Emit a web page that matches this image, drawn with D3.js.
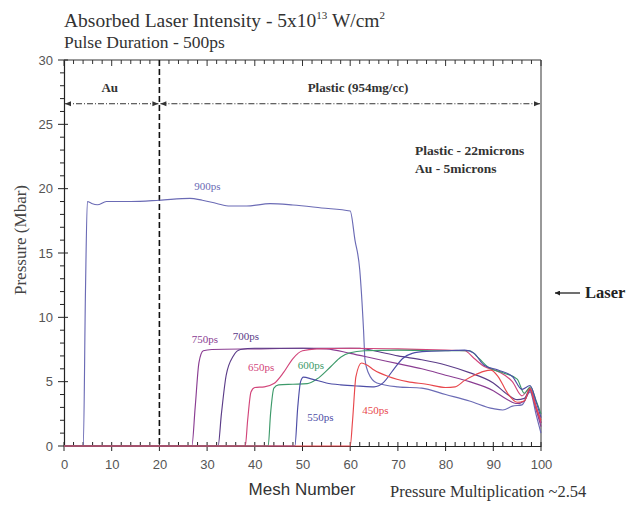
<!DOCTYPE html>
<html>
<head>
<meta charset="utf-8">
<script src="https://cdn.jsdelivr.net/npm/d3@7"></script>
<style>
  html, body { margin: 0; padding: 0; background: #fff; }
  svg { display: block; }
</style>
</head>
<body>
<svg id="chart" width="629" height="506"></svg>
<script>
// Pressure profiles [mesh number, pressure in Mbar] at successive times
const p450 = [[0,0],[60,0],[60.5,2],[61.2,5.4],[62.4,6.45],[63.5,6.3],[65,5.9],[68,5.4],[72,5.0],[76,4.8],[80,4.55],[82,4.6],[84,5.1],[86,5.5],[88,5.8],[89.5,5.9],[91,5.4],[93,4.1],[95,3.4],[96.5,3.5],[97.7,4.5],[98.6,3.4],[100,2.0]];
const p550 = [[0,0],[48.4,0],[49,3],[49.6,5.0],[50.2,5.35],[52,5.2],[55,4.9],[58,4.75],[62,4.65],[65,4.6],[67,4.95],[69,5.9],[71,6.8],[73,7.2],[76,7.35],[80,7.4],[84,7.45],[86,7.2],[88,6.3],[91,5.9],[94,5.4],[96,4.4],[97.7,4.7],[99,3.4],[100,2.2]];
const p600 = [[0,0],[42.8,0],[43.3,2.5],[44,4.5],[45,4.75],[48,4.8],[51,4.85],[53,5.2],[56,6.2],[58,6.9],[60,7.25],[63,7.4],[70,7.45],[80,7.4],[85,7.4],[87,6.8],[89,6.1],[92,5.7],[95,5.2],[96.5,4.1],[97.8,4.6],[99,3.5],[100,2.5]];
const p650 = [[0,0],[38,0],[38.5,2],[39.2,4.2],[40,4.55],[42,4.6],[44,4.85],[46,5.7],[48,6.8],[50,7.4],[53,7.55],[60,7.6],[70,7.55],[80,7.45],[84,7.4],[86,6.8],[88,6.2],[91,5.8],[94,5.0],[96,3.9],[97.7,4.5],[99,3.0],[100,1.8]];
const p700 = [[0,0],[32.3,0],[33,2.5],[34,5.5],[35.5,7.0],[37,7.5],[40,7.6],[50,7.6],[62,7.6],[65,7.4],[70,7.0],[75,6.7],[80,6.3],[85,5.7],[90,4.9],[93,4.0],[95,3.6],[96.5,3.7],[97.7,4.4],[99,3.0],[100,1.8]];
const p750 = [[0,0],[26.8,0],[27.5,3],[28.3,6.5],[29.2,7.4],[31,7.5],[40,7.55],[50,7.6],[55,7.55],[60,7.2],[65,6.8],[70,6.4],[75,6.0],[80,5.5],[85,5.0],[90,4.3],[93,3.6],[95,3.3],[96.5,3.5],[97.7,4.3],[99,2.8],[100,1.5]];
const p900 = [[0,0],[4.05,0],[4.5,12],[4.9,19.0],[5.8,18.85],[7.0,18.75],[8.9,19.0],[14,19.0],[20,19.1],[26.4,19.25],[29,19.1],[32,18.85],[34.8,18.65],[38.3,18.65],[43.2,18.84],[48,18.73],[54,18.5],[60,18.26],[61,16],[62,13.7],[62.8,9],[63.1,6.7],[63.8,5.7],[65.6,4.9],[70,4.6],[75,4.5],[80,4.0],[85,3.5],[90,2.9],[92,2.8],[94,3.1],[96,3.2],[97.7,4.2],[99,2.4],[100,1.0]];

const seriesNames  = ["900ps", "750ps", "700ps", "650ps", "600ps", "550ps", "450ps"];
const seriesData   = [p900, p750, p700, p650, p600, p550, p450];
const seriesColors = ["#6b6bb5", "#8a3d92", "#5b3c88", "#d2457a", "#3d9a6a", "#4d4da6", "#e8474c"];
// label anchor in data units [mesh, pressure]
const labelMesh     = [27.3, 26.8, 35.4, 38.6, 49.0, 51.0, 62.5];
const labelPressure = [19.9, 8.0, 8.2, 5.85, 6.0, 1.95, 2.45];

const xTicks = [0, 10, 20, 30, 40, 50, 60, 70, 80, 90, 100];
const yTicks = [0, 5, 10, 15, 20, 25, 30];
const layerBoundary = 20;   // Au / plastic interface (mesh)
const regionArrowLevel = 26.6;

const svg = d3.select("#chart");
const serif = "'Liberation Serif', 'Times New Roman', serif";
const sans  = "'Liberation Sans', Arial, sans-serif";

const x = d3.scaleLinear().domain([0, 100]).range([64, 541]);
const y = d3.scaleLinear().domain([0, 30]).range([446, 60]);

// frame: top and right edges
svg.append("line").attr("x1", x(0)).attr("x2", x(100)).attr("y1", y(30)).attr("y2", y(30))
  .attr("stroke", "#333").attr("stroke-width", 1);
svg.append("line").attr("x1", x(100)).attr("x2", x(100)).attr("y1", y(30)).attr("y2", y(0))
  .attr("stroke", "#555").attr("stroke-width", 1.2);

// top edge ticks pointing inward
const topMinor = d3.range(0, 101, 2);
svg.append("g").selectAll("line").data(topMinor).join("line")
  .attr("x1", d => x(d)).attr("x2", d => x(d))
  .attr("y1", y(30)).attr("y2", d => y(30) + (d % 10 === 0 ? 6 : 4))
  .attr("stroke", "#333").attr("stroke-width", 1);

// bottom axis
const xAxis = d3.axisBottom(x).tickValues(xTicks).tickSize(0).tickPadding(14);
const gx = svg.append("g").attr("transform", `translate(0,${y(0)})`).call(xAxis);
gx.select(".domain").attr("stroke", "#222").attr("stroke-width", 1.2);
gx.selectAll("text").attr("font-family", sans).attr("font-size", 13).attr("fill", "#555");
svg.append("g").selectAll("line").data(d3.range(0, 101, 2)).join("line")
  .attr("x1", d => x(d)).attr("x2", d => x(d))
  .attr("y1", d => y(0) - 4).attr("y2", d => y(0) + (d % 10 === 0 ? 5 : 1))
  .attr("stroke", "#222").attr("stroke-width", 1);

// left axis
const yAxis = d3.axisLeft(y).tickValues(yTicks).tickSize(0).tickPadding(11);
const gy = svg.append("g").attr("transform", `translate(${x(0)},0)`).call(yAxis);
gy.select(".domain").attr("stroke", "#222").attr("stroke-width", 1.2);
gy.selectAll("text").attr("font-family", sans).attr("font-size", 13).attr("fill", "#555");
svg.append("g").selectAll("line").data(d3.range(0, 31, 1)).join("line")
  .attr("x1", d => x(0) - (d % 5 === 0 ? 6 : 4)).attr("x2", d => x(0) + (d % 5 === 0 ? 4 : 0))
  .attr("y1", d => y(d)).attr("y2", d => y(d))
  .attr("stroke", "#222").attr("stroke-width", 1);

// Au / plastic interface
svg.append("line")
  .attr("x1", x(layerBoundary)).attr("x2", x(layerBoundary))
  .attr("y1", y(30)).attr("y2", y(0))
  .attr("stroke", "#111").attr("stroke-width", 1.6).attr("stroke-dasharray", "6,3");

// region extent arrows (dash-dot)
const defs = svg.append("defs");
defs.append("marker").attr("id", "ah").attr("viewBox", "0 0 10 10")
  .attr("refX", 10).attr("refY", 5).attr("markerWidth", 7).attr("markerHeight", 6)
  .attr("orient", "auto-start-reverse").attr("markerUnits", "userSpaceOnUse")
  .append("path").attr("d", "M0,1 L10,5 L0,9 Z").attr("fill", "#333");
[[0, layerBoundary], [layerBoundary, 100]].forEach(([a, b]) => {
  svg.append("line")
    .attr("x1", x(a) + 1).attr("x2", x(b) - 1)
    .attr("y1", y(regionArrowLevel)).attr("y2", y(regionArrowLevel))
    .attr("stroke", "#333").attr("stroke-width", 1)
    .attr("stroke-dasharray", "6,2,1,2")
    .attr("marker-start", "url(#ah)").attr("marker-end", "url(#ah)");
});
svg.append("text").attr("x", x(10) - 2).attr("y", 92).attr("text-anchor", "middle")
  .attr("font-family", serif).attr("font-weight", "bold").attr("font-size", 13).attr("fill", "#333")
  .text("Au");
svg.append("text").attr("x", 358).attr("y", 92).attr("text-anchor", "middle")
  .attr("font-family", serif).attr("font-weight", "bold").attr("font-size", 13).attr("fill", "#333")
  .text("Plastic (954mg/cc)");

// pressure profiles
const line = d3.line().x(d => x(d[0])).y(d => y(d[1])).curve(d3.curveMonotoneX);
svg.append("g").selectAll("path").data(seriesData).join("path")
  .attr("d", d => line(d))
  .attr("fill", "none")
  .attr("stroke", (d, i) => seriesColors[i])
  .attr("stroke-width", 1.15)
  .attr("stroke-linejoin", "round");

svg.append("g").selectAll("text").data(seriesNames).join("text")
  .attr("x", (d, i) => x(labelMesh[i])).attr("y", (d, i) => y(labelPressure[i]))
  .attr("font-family", serif).attr("font-size", 11)
  .attr("fill", (d, i) => seriesColors[i])
  .text(d => d);

// titles
const t1 = svg.append("text").attr("x", 64).attr("y", 27)
  .attr("font-family", serif).attr("font-size", 19.5).attr("fill", "#333");
t1.append("tspan").text("Absorbed Laser Intensity - 5x10");
t1.append("tspan").attr("font-size", 11).attr("dy", -8).text("13");
t1.append("tspan").attr("dy", 8).text(" W/cm");
t1.append("tspan").attr("font-size", 11).attr("dy", -8).text("2");
svg.append("text").attr("x", 64).attr("y", 48)
  .attr("font-family", serif).attr("font-size", 17.5).attr("fill", "#333")
  .text("Pulse Duration - 500ps");

// axis titles
svg.append("text").attr("transform", "translate(26,240) rotate(-90)").attr("text-anchor", "middle")
  .attr("font-family", serif).attr("font-size", 17).attr("fill", "#444")
  .text("Pressure (Mbar)");
svg.append("text").attr("x", 302).attr("y", 495).attr("text-anchor", "middle")
  .attr("font-family", sans).attr("font-size", 17).attr("fill", "#333")
  .text("Mesh Number");
svg.append("text").attr("x", 390).attr("y", 497)
  .attr("font-family", serif).attr("font-size", 16.5).attr("fill", "#333")
  .text("Pressure Multiplication ~2.54");

// target description
svg.append("text").attr("x", 415).attr("y", 155)
  .attr("font-family", serif).attr("font-weight", "bold").attr("font-size", 13.5).attr("fill", "#333")
  .text("Plastic - 22microns");
svg.append("text").attr("x", 415).attr("y", 173)
  .attr("font-family", serif).attr("font-weight", "bold").attr("font-size", 13.5).attr("fill", "#333")
  .text("Au - 5microns");

// laser direction
defs.append("marker").attr("id", "lah").attr("viewBox", "0 0 10 10")
  .attr("refX", 0).attr("refY", 5).attr("markerWidth", 7).attr("markerHeight", 5)
  .attr("orient", "auto").attr("markerUnits", "userSpaceOnUse")
  .append("path").attr("d", "M10,0 L0,5 L10,10 Z").attr("fill", "#222");
svg.append("line").attr("x1", 555).attr("x2", 580).attr("y1", 293).attr("y2", 293)
  .attr("stroke", "#222").attr("stroke-width", 1.3).attr("marker-start", "url(#lah)");
svg.append("text").attr("x", 585).attr("y", 298)
  .attr("font-family", serif).attr("font-weight", "bold").attr("font-size", 16.5).attr("fill", "#222")
  .text("Laser");
</script>
</body>
</html>
